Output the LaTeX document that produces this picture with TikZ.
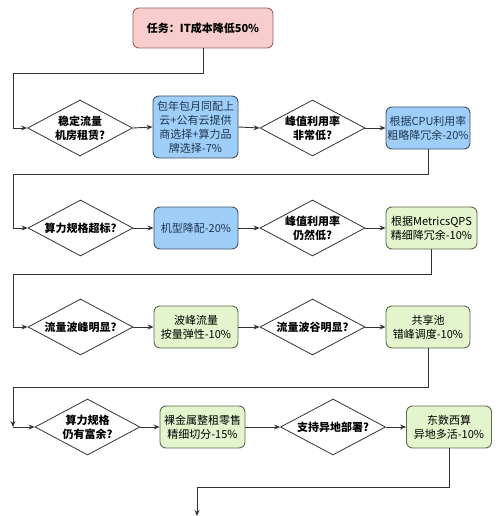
\documentclass[tikz,border=0pt]{standalone}
\usepackage{fontspec}
\setmainfont{Noto Sans CJK SC}
\usetikzlibrary{shapes.geometric,arrows.meta}
\definecolor{pinkfill}{HTML}{F8CECC}
\definecolor{pinkline}{HTML}{9E6160}
\definecolor{bluefill}{HTML}{9FCFF8}
\definecolor{blueline}{HTML}{3F4F63}
\definecolor{greenfill}{HTML}{E4F4CC}
\definecolor{greenline}{HTML}{5A6B50}
\definecolor{linecol}{HTML}{333333}
\definecolor{txtblue}{HTML}{1F3550}
\tikzset{
  base/.style={rectangle, rounded corners=6pt, draw, line width=0.9pt, align=center, inner sep=1pt, font=\fontsize{11}{14}\selectfont},
  taskbox/.style={base, fill=pinkfill, draw=pinkline, minimum width=140pt, minimum height=40pt, font=\fontsize{11}{14}\selectfont\bfseries},
  bluebox/.style={base, fill=bluefill, draw=blueline, text=txtblue},
  greenbox/.style={base, fill=greenfill, draw=greenline},
  dia/.style={diamond, draw=linecol, line width=0.8pt, minimum width=105pt, minimum height=56pt, inner sep=0pt},
  dtext/.style={align=center, font=\fontsize{11}{14}\selectfont\bfseries, inner sep=0pt},
  conn/.style={draw=linecol, line width=0.9pt, -{Stealth[length=6pt,width=5pt]}},
  plain/.style={draw=linecol, line width=0.9pt}
}
\begin{document}
\begin{tikzpicture}[x=1pt,y=-1pt]
\useasboundingbox (0,0) rectangle (500,516);
% top
\node[taskbox] (task) at (203,28) {任务：IT成本降低50\%};
% row 1
\node[dia] (d1) at (80,128) {};
\node[dtext] (t1) at (d1.center) {稳定流量\\机房租赁?};
\node[bluebox, minimum width=85pt, minimum height=62pt] (b1) at (195.5,127) {包年包月同配上\\云+公有云提供\\商选择+算力品\\牌选择-7\%};
\node[dia] (d2) at (312.5,128) {};
\node[dtext] (t2) at (d2.center) {峰值利用率\\非常低?};
\node[bluebox, minimum width=84pt, minimum height=42pt] (b2) at (428,128) {根据CPU利用率\\粗略降冗余-20\%};
% row 2
\node[dia] (d3) at (80.5,228) {};
\node[dtext] (t3) at (d3.center) {算力规格超标?};
\node[bluebox, minimum width=84pt, minimum height=42pt] (b3) at (196,228) {机型降配-20\%};
\node[dia] (d4) at (312.5,228) {};
\node[dtext] (t4) at (d4.center) {峰值利用率\\仍然低?};
\node[greenbox, minimum width=91pt, minimum height=42pt] (b4) at (431.5,228) {根据MetricsQPS\\精细降冗余-10\%};
% row 3
\node[dia] (d5) at (80.5,327) {};
\node[dtext] (t5) at (d5.center) {流量波峰明显?};
\node[greenbox, minimum width=84pt, minimum height=42pt] (b5) at (196,327) {波峰流量\\按量弹性-10\%};
\node[dia] (d6) at (312.5,327) {};
\node[dtext] (t6) at (d6.center) {流量波谷明显?};
\node[greenbox, minimum width=84pt, minimum height=42pt] (b6) at (428,327) {共享池\\错峰调度-10\%};
% row 4
\node[dia] (d7) at (87.5,427) {};
\node[dtext] (t7) at (d7.center) {算力规格\\仍有富余?};
\node[greenbox, minimum width=85pt, minimum height=42pt] (b7) at (202.5,427) {裸金属整租零售\\精细切分-15\%};
\node[dia] (d8) at (333,427) {};
\node[dtext] (t8) at (d8.center) {支持异地部署?};
\node[greenbox, minimum width=85pt, minimum height=42pt] (b8) at (449,427) {东数西算\\异地多活-10\%};
% coordinates
\coordinate (c4) at (13,427);
\coordinate (endc) at (197,516);
% connectors
\draw[conn] (task.south) |- (13,73) |- (d1.west);
\draw[conn] (d1.east) -- (b1.west);
\draw[conn] (b1.east) -- (d2.west);
\draw[conn] (d2.east) -- (b2.west);
\draw[conn] (b2.south) |- (13,174) |- (d3.west);
\draw[conn] (d3.east) -- (b3.west);
\draw[conn] (b3.east) -- (d4.west);
\draw[conn] (d4.east) -- (b4.west);
\draw[conn] (b4.south) |- (13,274) |- (d5.west);
\draw[conn] (d5.east) -- (b5.west);
\draw[conn] (b5.east) -- (d6.west);
\draw[conn] (d6.east) -- (b6.west);
\draw[conn] (b6.south) |- (13,387) -- (c4);
\draw[conn] (c4) -- (d7.west);
\draw[conn] (d7.east) -- (b7.west);
\draw[conn] (b7.east) -- (d8.west);
\draw[conn] (d8.east) -- (b8.west);
\draw[conn] (b8.south) |- (197,487) -- (endc);
\end{tikzpicture}
\end{document}
